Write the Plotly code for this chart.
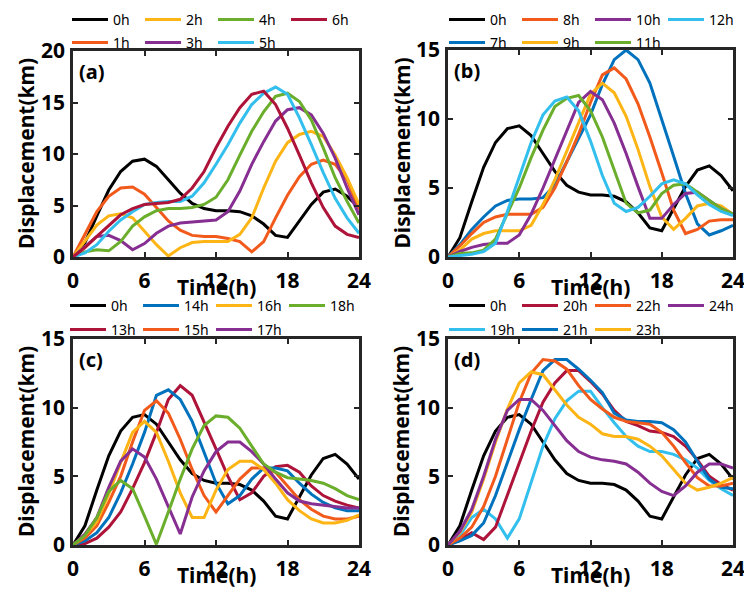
import plotly.graph_objects as go

# ---------------- data ----------------
hours = list(range(25))
x_ticks = [0, 6, 12, 18, 24]

d0h = [0, 1.4, 4.0, 6.5, 8.3, 9.3, 9.5, 8.8, 7.5, 6.2, 5.2, 4.7, 4.5, 4.5, 4.4, 4.0, 3.2, 2.1, 1.9, 3.5, 5.1, 6.3, 6.6, 5.9, 4.8]

# panel (a)
d1h = [0, 2.2, 4.4, 5.9, 6.7, 6.8, 6.1, 4.8, 3.5, 2.6, 2.1, 2.0, 2.0, 1.8, 1.5, 0.5, 1.5, 3.8, 6.0, 7.8, 9.0, 9.4, 9.0, 7.5, 4.6]
d2h = [0, 1.5, 3.1, 4.0, 4.2, 3.8, 2.5, 1.2, 0.1, 0.9, 1.4, 1.5, 1.5, 1.5, 2.2, 3.8, 6.7, 9.3, 11.1, 11.9, 12.2, 11.7, 9.9, 7.7, 5.1]
d3h = [0, 1.0, 2.0, 2.1, 1.6, 0.7, 1.3, 2.3, 3.0, 3.3, 3.4, 3.5, 3.6, 4.4, 6.4, 9.0, 11.2, 13.2, 14.3, 14.5, 13.8, 12.0, 9.6, 6.7, 4.1]
d4h = [0, 0.5, 0.7, 0.6, 1.5, 3.0, 3.9, 4.5, 4.7, 4.7, 4.8, 5.1, 5.8, 7.5, 9.9, 12.2, 14.1, 15.6, 15.9, 15.1, 13.3, 10.6, 7.7, 5.4, 3.3]
d5h = [0, 0.4, 1.2, 2.5, 3.6, 4.4, 5.1, 5.3, 5.4, 5.4, 5.9, 7.2, 9.0, 10.9, 13.0, 14.8, 15.9, 16.5, 15.8, 13.5, 10.9, 8.2, 5.7, 3.8, 2.3]
d6h = [0, 0.9, 2.0, 3.1, 4.1, 4.7, 5.1, 5.2, 5.3, 5.6, 6.7, 8.3, 10.6, 12.7, 14.5, 15.8, 16.1, 14.8, 12.5, 9.9, 7.2, 4.8, 3.0, 2.2, 1.9]

# panel (b)
d7h = [0, 0.9, 2.0, 2.9, 3.7, 4.1, 4.2, 4.2, 4.3, 5.2, 6.9, 8.6, 10.3, 12.5, 14.3, 15.0, 14.3, 12.6, 10.0, 7.3, 4.6, 2.4, 1.6, 1.9, 2.3]
d8h = [0, 0.8, 1.7, 2.5, 2.9, 3.1, 3.1, 3.1, 3.6, 5.0, 6.9, 8.9, 11.2, 13.2, 13.7, 12.9, 11.1, 8.7, 6.1, 3.4, 1.7, 2.0, 2.6, 2.7, 2.7]
d9h = [0, 0.5, 1.3, 1.7, 1.9, 1.9, 1.9, 2.3, 3.8, 5.6, 7.7, 9.8, 11.8, 12.6, 11.9, 10.2, 7.8, 5.1, 2.9, 2.0, 2.8, 3.7, 3.9, 3.7, 3.1]
d10h = [0, 0.4, 0.7, 0.9, 1.0, 1.0, 1.6, 3.1, 5.0, 7.1, 9.1, 11.2, 12.0, 11.4, 9.7, 7.5, 5.1, 2.8, 2.8, 3.8, 4.6, 4.7, 4.1, 3.5, 3.1]
d11h = [0, 0.25, 0.3, 0.5, 1.3, 3.1, 5.0, 7.2, 9.2, 10.9, 11.5, 11.7, 10.6, 8.7, 6.3, 3.9, 3.2, 3.4, 4.6, 5.2, 5.3, 4.7, 4.1, 3.5, 3.1]
d12h = [0, 0.1, 0.2, 0.4, 1.0, 3.3, 5.8, 8.3, 10.3, 11.3, 11.6, 10.6, 8.4, 5.9, 3.9, 3.3, 3.6, 4.4, 5.3, 5.6, 5.3, 4.5, 3.8, 3.3, 3.0]

# panel (c)
d13h = [0, 0.1, 0.5, 1.3, 2.4, 4.1, 6.0, 8.2, 10.6, 11.6, 10.9, 9.0, 7.0, 5.0, 3.3, 3.8, 5.0, 5.7, 5.8, 5.3, 4.3, 3.6, 3.2, 2.9, 2.7]
d14h = [0, 0.3, 0.9, 2.0, 3.8, 5.9, 8.2, 10.9, 11.3, 10.6, 9.0, 6.7, 4.5, 3.0, 3.6, 4.8, 5.6, 5.6, 5.4, 4.5, 3.7, 3.1, 2.7, 2.5, 2.5]
d15h = [0, 0.5, 1.4, 3.1, 5.0, 7.5, 9.8, 10.5, 9.6, 7.7, 5.5, 3.6, 2.4, 3.6, 4.8, 5.6, 5.6, 5.3, 4.3, 3.3, 2.6, 2.1, 1.9, 1.9, 2.1]
d16h = [0, 0.7, 1.7, 3.7, 6.0, 8.2, 9.0, 8.2, 6.1, 3.8, 2.0, 2.0, 4.0, 5.5, 6.1, 6.1, 5.5, 4.5, 3.3, 2.5, 1.9, 1.6, 1.6, 1.8, 2.2]
d17h = [0, 0.8, 2.0, 4.2, 6.1, 7.0, 6.4, 4.8, 2.8, 0.8, 3.5, 5.4, 6.8, 7.5, 7.5, 6.8, 5.9, 4.8, 3.8, 3.2, 3.0, 2.9, 2.8, 2.7, 2.7]
d18h = [0, 0.7, 2.0, 3.9, 4.7, 4.1, 2.1, 0.05, 2.4, 4.8, 7.0, 8.7, 9.4, 9.3, 8.5, 7.2, 5.9, 5.3, 4.9, 4.8, 4.7, 4.5, 4.1, 3.6, 3.3]

# panel (d)
d19h = [0, 0.7, 2.0, 2.6, 1.9, 0.5, 1.9, 4.5, 7.2, 9.2, 10.5, 11.2, 11.2, 10.0, 8.9, 7.9, 7.2, 6.8, 6.8, 6.6, 6.2, 5.6, 4.7, 4.1, 3.6]
d20h = [0, 0.4, 0.9, 0.4, 1.3, 3.6, 6.0, 8.3, 10.4, 11.8, 12.7, 12.7, 11.9, 11.0, 9.8, 9.0, 8.7, 8.3, 8.2, 7.9, 7.2, 6.2, 5.0, 4.4, 4.0]
d21h = [0, 0.3, 0.7, 1.6, 3.6, 6.0, 8.4, 10.6, 12.7, 13.5, 13.5, 12.8, 12.0, 11.1, 9.6, 9.1, 9.0, 9.0, 8.9, 8.4, 7.5, 6.1, 4.8, 4.2, 4.1]
d22h = [0, 0.5, 1.3, 2.8, 5.0, 7.7, 10.4, 12.5, 13.5, 13.4, 12.8, 11.6, 10.6, 9.9, 9.3, 9.0, 8.9, 8.8, 8.2, 7.2, 6.0, 4.9, 4.3, 4.3, 4.5]
d23h = [0, 0.9, 2.4, 4.8, 7.5, 9.9, 11.8, 12.6, 12.4, 11.3, 10.2, 9.3, 8.8, 8.1, 7.9, 7.9, 7.7, 7.2, 6.5, 5.5, 4.5, 4.0, 4.2, 4.5, 4.9]
d24h = [0, 1.0, 2.6, 5.0, 7.7, 9.8, 10.6, 10.6, 9.8, 8.7, 7.6, 6.8, 6.4, 6.2, 6.1, 5.9, 5.3, 4.5, 3.9, 3.6, 4.3, 5.3, 5.9, 5.9, 5.6]

names_a = ["0h", "1h", "2h", "3h", "4h", "5h", "6h"]
names_b = ["0h", "7h", "8h", "9h", "10h", "11h", "12h"]
names_c = ["0h", "13h", "14h", "15h", "16h", "17h", "18h"]
names_d = ["0h", "19h", "20h", "21h", "22h", "23h", "24h"]
yticks_a = [0, 5, 10, 15, 20]
yticks_bcd = [0, 5, 10, 15]

# ---------------- style ----------------
BLACK = "#000000"
BLUE = "#0072BD"
ORANGE = "#F25A1C"
YELLOW = "#FDB515"
PURPLE = "#862E91"
GREEN = "#6AAE2C"
CYAN = "#33BFEE"
RED = "#AE1339"
# colour of hour h follows a 7-colour cycle
cycle = [BLUE, ORANGE, YELLOW, PURPLE, GREEN, CYAN, RED]


def hcol(name):
    h = int(name[:-1])
    return BLACK if h == 0 else cycle[h % 7]


FONT = "Noto Sans"
W, H = 744, 594

panels = [
    dict(lab="(a)", names=names_a, data=[d0h, d1h, d2h, d3h, d4h, d5h, d6h], yr=20, yt=yticks_a,
         box=(73, 359, 51, 257), leg=(67, 20, 43)),
    dict(lab="(b)", names=names_b, data=[d0h, d7h, d8h, d9h, d10h, d11h, d12h], yr=15, yt=yticks_bcd,
         box=(448, 733, 50, 257), leg=(444, 20, 43)),
    dict(lab="(c)", names=names_c, data=[d0h, d13h, d14h, d15h, d16h, d17h, d18h], yr=15, yt=yticks_bcd,
         box=(73, 359, 339, 545), leg=(65, 306, 330)),
    dict(lab="(d)", names=names_d, data=[d0h, d19h, d20h, d21h, d22h, d23h, d24h], yr=15, yt=yticks_bcd,
         box=(448, 733, 339, 545), leg=(444, 306, 330)),
]

fig = go.Figure()
layout = dict(
    width=W, height=H, margin=dict(l=0, r=0, t=0, b=0, autoexpand=False),
    paper_bgcolor="white", plot_bgcolor="white",
    font=dict(family=FONT, color="black"),
    showlegend=True, annotations=[],
)

axis_common = dict(
    showline=True, linecolor="#262626", linewidth=2.6, mirror="allticks",
    ticks="inside", ticklen=5, tickwidth=1.5, tickcolor="#262626",
    showgrid=False, zeroline=False, ticklabeloverflow="allow",
    tickfont=dict(family=FONT, size=21, color="black", weight="bold"),
)

for pi, p in enumerate(panels):
    k = pi + 1
    xs = "" if k == 1 else str(k)
    x0, x1, y0, y1 = p["box"]
    xdom = [x0 / W, x1 / W]
    ydom = [1 - y1 / H, 1 - y0 / H]
    layout["xaxis" + xs] = dict(axis_common, domain=xdom, anchor="y" + xs, range=[0, 24],
                                tickvals=x_ticks, ticktext=[str(v) for v in x_ticks],
                                ticklabelstandoff=3)
    layout["yaxis" + xs] = dict(axis_common, domain=ydom, anchor="x" + xs, range=[0, p["yr"]],
                                tickvals=p["yt"], ticktext=[str(v) for v in p["yt"]],
                                ticklabelstandoff=1)
    lx, ly1, ly2 = p["leg"]
    leg_ids = []
    for r, ly in enumerate([ly1, ly2]):
        idx = 2 * pi + r + 1
        lid = "legend" if idx == 1 else "legend%d" % idx
        leg_ids.append(lid)
        layout[lid] = dict(
            orientation="h", x=lx / W, y=1 - ly / H, xref="paper", yref="paper",
            xanchor="left", yanchor="middle", bgcolor="rgba(0,0,0,0)",
            font=dict(family=FONT, size=14, color="black"),
            entrywidth=22, entrywidthmode="pixels", itemwidth=36,
            tracegroupgap=0, borderwidth=0, traceorder="normal",
        )
    for j, (nm, ys) in enumerate(zip(p["names"], p["data"])):
        fig.add_trace(go.Scatter(
            x=hours, y=ys, mode="lines", name=nm,
            line=dict(color=hcol(nm), width=3),
            xaxis="x" + xs, yaxis="y" + xs,
            legend=leg_ids[j % 2], hoverinfo="skip",
        ))
    # panel label
    layout["annotations"].append(dict(
        text="<b>%s</b>" % p["lab"], x=0.015, y=0.975, xref="x%s domain" % xs, yref="y%s domain" % xs,
        xanchor="left", yanchor="top", showarrow=False,
        font=dict(family=FONT, size=20, color="black")))
    # axis titles
    layout["annotations"].append(dict(
        text="<b>Time(h)</b>", x=(x0 + x1) / 2 / W, y=1 - (y1 + 30) / H, xref="paper", yref="paper",
        xanchor="center", yanchor="middle", showarrow=False,
        font=dict(family=FONT, size=21, color="black")))
    layout["annotations"].append(dict(
        text="<b>Displacement(km)</b>", x=(x0 - 47) / W, y=1 - (y0 + y1) / 2 / H,
        xref="paper", yref="paper", xanchor="center", yanchor="middle", textangle=-90,
        showarrow=False, font=dict(family=FONT, size=21, color="black")))

fig.update_layout(**layout)
fig.write_html("out.html")
